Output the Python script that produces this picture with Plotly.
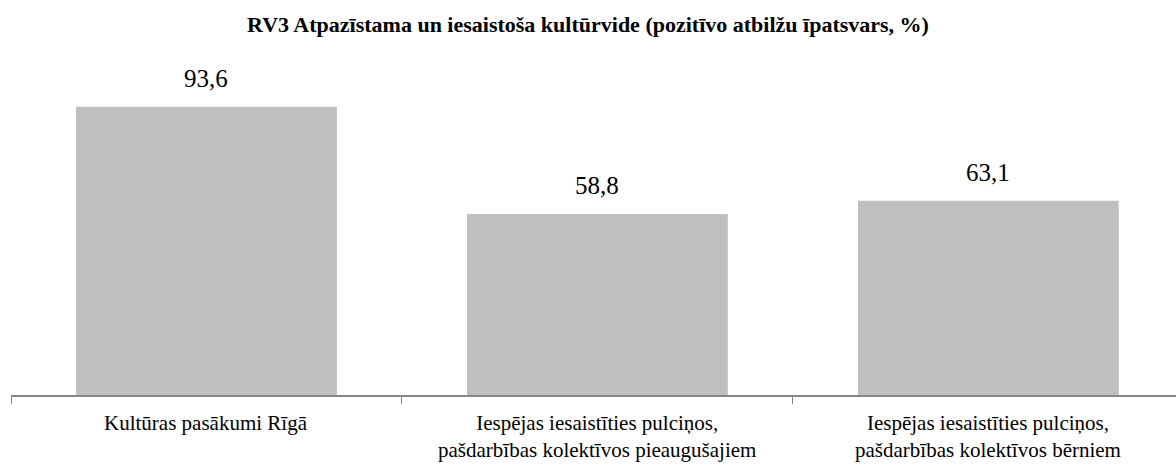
import plotly.graph_objects as go

cat_line1 = [
    "Kultūras pasākumi Rīgā",
    "Iespējas iesaistīties pulciņos,",
    "Iespējas iesaistīties pulciņos,",
]
cat_line2 = [
    "",
    "pašdarbības kolektīvos pieaugušajiem",
    "pašdarbības kolektīvos bērniem",
]
categories = [(a + " " + b).strip() for a, b in zip(cat_line1, cat_line2)]
values = [93.6, 58.8, 63.1]
value_labels = ["93,6", "58,8", "63,1"]

SERIF = "'Liberation Serif', 'Times New Roman', Times, serif"

fig = go.Figure(go.Bar(
    x=categories, y=values,
    marker=dict(color="#BFBFBF", line=dict(width=0)),
    hoverinfo="skip",
))

annotations = []
for c, v, lab, l1, l2 in zip(categories, values, value_labels, cat_line1, cat_line2):
    annotations.append(dict(x=c, y=v, xref="x", yref="y", text=lab, showarrow=False,
                            yanchor="middle", yshift=28,
                            font=dict(family=SERIF, size=25, color="#000000")))
    if l2:
        annotations.append(dict(x=c, y=0, xref="x", yref="y", text=l1 + "<br>" + l2,
                                showarrow=False, yanchor="middle", yshift=-41,
                                font=dict(family=SERIF, size=21, color="#000000")))
    else:
        annotations.append(dict(x=c, y=0, xref="x", yref="y", text=l1, showarrow=False,
                                yanchor="middle", yshift=-28,
                                font=dict(family=SERIF, size=21, color="#000000")))

fig.update_layout(
    width=1176, height=464,
    paper_bgcolor="white", plot_bgcolor="white",
    margin=dict(l=11, r=0, t=87, b=69, autoexpand=False),
    bargap=0.333,
    showlegend=False,
    annotations=annotations,
    title=dict(
        text="<b>RV3 Atpazīstama un iesaistoša kultūrvide (pozitīvo atbilžu īpatsvars, %)</b>",
        x=0.5, xref="container", xanchor="center", y=1 - 24/464, yanchor="middle",
        font=dict(family=SERIF, size=22, color="#000000"),
    ),
    font=dict(family=SERIF, color="#000000"),
)
fig.update_xaxes(
    range=[-0.5, 2.48],
    showline=True, linecolor="#868686", linewidth=1.5,
    ticks="outside", tickson="boundaries", ticklen=7, tickcolor="#868686", tickwidth=1,
    showticklabels=False, showgrid=False, automargin=False,
)
fig.update_yaxes(range=[0, 100], visible=False, showgrid=False, zeroline=False, automargin=False)

fig.write_html("out.html", config={"displayModeBar": False},
               post_script="document.body.style.margin='0';document.body.style.overflow='hidden';")
